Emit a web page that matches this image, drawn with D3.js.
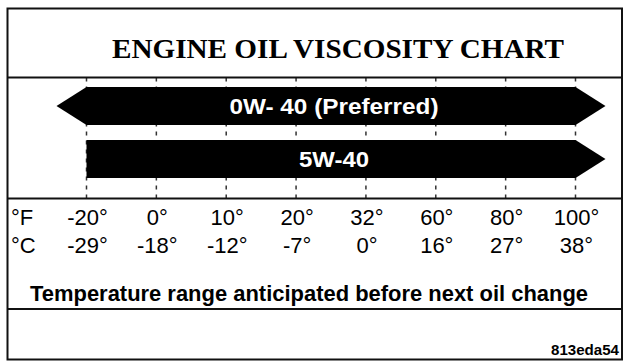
<!DOCTYPE html>
<html>
<head>
<meta charset="utf-8">
<script src="https://cdn.jsdelivr.net/npm/d3@7"></script>
<style>
  body { margin: 0; background: #fff; }
  svg { display: block; }
</style>
</head>
<body>
<script>
const title = "ENGINE OIL VISCOSITY CHART";
const fahrenheit = ["-20°", "0°", "10°", "20°", "32°", "60°", "80°", "100°"];
const celsius = ["-29°", "-18°", "-12°", "-7°", "0°", "16°", "27°", "38°"];
const grades = ["0W- 40 (Preferred)", "5W-40"];
const gradeFrom = ["-20°", "-20°"];
const gradeTo = ["100°", "100°"];
const arrowLeft = [true, false];
const arrowRight = [true, true];
const caption = "Temperature range anticipated before next oil change";
const code = "813eda54";

const width = 626, height = 362;
const box = { left: 7.5, right: 622, top: 8.5, bottom: 359.5 };
const lines = [77.5, 198.5, 309];

const svg = d3.select("body").append("svg")
  .attr("width", width)
  .attr("height", height);

const x = d3.scalePoint().domain(fahrenheit).range([86.5, 575.5]);
const y = d3.scaleBand().domain(grades).range([87, 178]).paddingInner(0.28);
const tip = 30;
const sans = "Liberation Sans, Arial, sans-serif";

// dashed tick lines behind the bars
svg.append("g")
  .selectAll("line")
  .data(fahrenheit)
  .join("line")
  .attr("x1", d => x(d))
  .attr("x2", d => x(d))
  .attr("y1", lines[0])
  .attr("y2", lines[1])
  .attr("stroke", "#333")
  .attr("stroke-width", 1.5)
  .attr("stroke-dasharray", "4,5");

// bars
const bars = svg.append("g");
const labelWidth = [209, 70];
grades.forEach((g, i) => {
  const x0 = x(gradeFrom[i]), x1 = x(gradeTo[i]);
  const y0 = y(g), y1 = y(g) + y.bandwidth(), ym = (y0 + y1) / 2;
  const p = d3.path();
  p.moveTo(x0, y0);
  p.lineTo(x1, y0);
  if (arrowRight[i]) p.lineTo(x1 + tip, ym);
  p.lineTo(x1, y1);
  p.lineTo(x0, y1);
  if (arrowLeft[i]) p.lineTo(x0 - tip, ym);
  p.closePath();
  bars.append("path").attr("d", p.toString()).attr("fill", "#000");
  bars.append("text")
    .attr("x", (x0 + x1) / 2 + 3)
    .attr("y", ym)
    .attr("dy", "0.36em")
    .attr("text-anchor", "middle")
    .attr("fill", "#fff")
    .attr("font-family", sans)
    .attr("font-weight", "bold")
    .attr("font-size", 22)
    .attr("textLength", labelWidth[i])
    .attr("lengthAdjust", "spacingAndGlyphs")
    .text(g);
});

// frame
svg.append("rect")
  .attr("x", box.left).attr("y", box.top)
  .attr("width", box.right - box.left).attr("height", box.bottom - box.top)
  .attr("fill", "none").attr("stroke", "#111").attr("stroke-width", 2);
svg.append("g").selectAll("line").data(lines).join("line")
  .attr("x1", box.left).attr("x2", box.right)
  .attr("y1", d => d).attr("y2", d => d)
  .attr("stroke", "#111").attr("stroke-width", 2);

svg.append("text")
  .attr("x", 338).attr("y", 58)
  .attr("text-anchor", "middle")
  .attr("font-family", "Liberation Serif, Times New Roman, serif")
  .attr("font-weight", "bold")
  .attr("font-size", 28)
  .attr("textLength", 452)
  .attr("lengthAdjust", "spacingAndGlyphs")
  .text(title);

// temperature rows
[["°F", fahrenheit, 225], ["°C", celsius, 253]].forEach(([unit, labels, ty]) => {
  svg.append("text")
    .attr("x", 11).attr("y", ty)
    .attr("font-family", sans).attr("font-size", 22)
    .text(unit);
  svg.append("g").selectAll("text").data(labels).join("text")
    .attr("x", (d, i) => x(fahrenheit[i]) + 1)
    .attr("y", ty)
    .attr("text-anchor", "middle")
    .attr("font-family", sans).attr("font-size", 22)
    .text(d => d);
});

svg.append("text")
  .attr("x", 309).attr("y", 301)
  .attr("text-anchor", "middle")
  .attr("font-family", sans)
  .attr("font-weight", "bold")
  .attr("font-size", 22)
  .attr("textLength", 558)
  .attr("lengthAdjust", "spacingAndGlyphs")
  .text(caption);

svg.append("text")
  .attr("x", 619).attr("y", 355)
  .attr("text-anchor", "end")
  .attr("font-family", sans)
  .attr("font-weight", "bold")
  .attr("font-size", 14)
  .attr("textLength", 68)
  .attr("lengthAdjust", "spacingAndGlyphs")
  .text(code);
</script>
</body>
</html>
